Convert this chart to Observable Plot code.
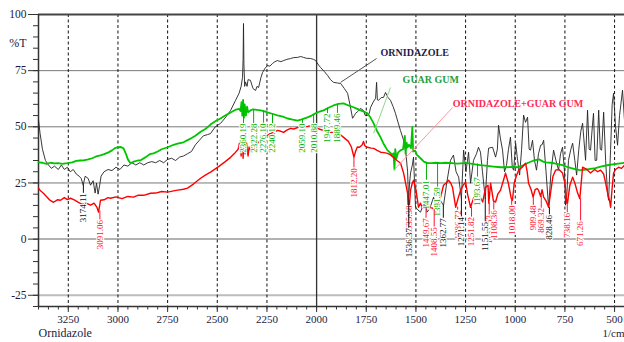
<!DOCTYPE html>
<html><head><meta charset="utf-8">
<script src="https://cdn.jsdelivr.net/npm/d3@7"></script>
<script src="https://cdn.jsdelivr.net/npm/@observablehq/plot@0.6"></script>
<style>
html,body{margin:0;padding:0;background:#fff;}
#chart{width:624px;height:342px;overflow:hidden;}
</style></head><body><div id="chart"></div>
<script>
// ---- tick labels ----
const xTicks = [3250,3000,2750,2500,2250,2000,1750,1500,1250,1000,750,500];
const yTicks = [-25,0,25,50,75,100];

// ---- series: [wavenumber (1/cm), %T] ----
const ornidazole = [[3400,53],[3392,47],[3380,40],[3365,35],[3350,33],[3335,31.5],[3320,32.5],[3300,31],[3285,33],[3270,31],[3255,32],[3240,30],[3225,31],[3210,29],[3195,28],[3185,27],[3175,24],[3165,28],[3150,27],[3138,24],[3125,26],[3115,20.5],[3108,25],[3100,20],[3092,24],[3085,28],[3070,30],[3050,31],[3030,30.5],[3010,32],[2990,31],[2970,33],[2950,32.5],[2930,34],[2910,33],[2890,34],[2870,33],[2850,34],[2830,34.5],[2810,34],[2790,35],[2770,34],[2750,35.5],[2730,36],[2710,35],[2690,36.5],[2670,37],[2650,38],[2630,39],[2610,42],[2590,44],[2570,46],[2550,46.5],[2534,47],[2510,50],[2484,51.5],[2460,54],[2433,57.3],[2408,61.8],[2390,65],[2380,68],[2373,72],[2370,80],[2368,96],[2366,78],[2362,68],[2358,70],[2350,68],[2345,71],[2333,70.7],[2320,67],[2307,66.2],[2300,68],[2292,67.5],[2280,72],[2272,74.2],[2260,76],[2247,77.3],[2235,77],[2222,78.2],[2210,79],[2197,79.5],[2180,79],[2166,79.5],[2150,80],[2131,80.4],[2115,80.8],[2096,80.9],[2080,81.3],[2066,80.9],[2050,80.5],[2030,80.4],[2015,80],[2005,79.5],[1990,77.5],[1980,76.4],[1960,74.5],[1945,72.9],[1930,71],[1915,69.8],[1895,69.5],[1879,69.3],[1860,67],[1844,64.9],[1830,59],[1819,53.8],[1810,55],[1804,56],[1790,57],[1779,58.2],[1764,57.3],[1755,55],[1744,55],[1735,56],[1728,58.7],[1715,61],[1703,62.7],[1698,69.8],[1694,62],[1688,61.8],[1675,63],[1663,63.1],[1653,65.3],[1640,63],[1628,61.8],[1615,59],[1603,56],[1590,52],[1578,48.4],[1562,44],[1550,38],[1542,30],[1537,17.3],[1532,25],[1527,29.4],[1518,33],[1512,36.5],[1507,25],[1502,14.2],[1490,13],[1477,12],[1464,15],[1451,16],[1444,12],[1436,12.9],[1425,15],[1411,18.7],[1400,14],[1386,14.2],[1375,17],[1361,15],[1345,25],[1326,35.1],[1311,37.4],[1298,30],[1285,27.6],[1271,18],[1260,39.6],[1248,30],[1235,38.7],[1225,24.9],[1210,35.1],[1195,38],[1185,40.9],[1175,38.7],[1165,30],[1151,18],[1140,35],[1134,40.5],[1114,40.9],[1099,36.5],[1090,40],[1084,50.7],[1075,45],[1064,39.6],[1054,30],[1044,32.9],[1034,40],[1024,45.4],[1015,32],[1008,30.7],[998,42.7],[988,35],[978,28.5],[968,40],[958,55.2],[948,52],[938,54.3],[930,40],[923,39.6],[913,44],[903,35],[893,30.7],[883,38],[872,41.8],[865,42],[857,44],[845,30],[832,14],[820,30],[807,39.6],[795,35],[782,30.7],[772,38],[762,40.9],[752,30],[747,15.1],[740,20],[732,35.1],[720,40],[711,42.7],[700,35],[691,28.5],[680,40],[670,48],[661,51.6],[655,45],[646,35.1],[636,57.4],[628,40],[621,39.6],[612,50],[606,56],[598,35],[590,35.1],[580,57.4],[572,40],[565,39.6],[555,56.5],[545,35],[535,20],[530,17.3],[520,40],[512,60],[505,64.9],[495,50],[485,41.8],[475,55],[460,66.3],[450,52.9]];

const guarGum = [[3400,34.2],[3380,34],[3360,33.5],[3340,34],[3320,33.7],[3300,33.8],[3280,33.5],[3254,33.8],[3230,34.2],[3210,34.8],[3190,35],[3173,35.1],[3150,35.5],[3130,36],[3110,36.8],[3088,37.3],[3070,37.8],[3050,38.5],[3030,39.5],[3015,40.5],[3002,40.9],[2985,41],[2972,40.4],[2960,38],[2950,35.5],[2937,33.8],[2920,34.5],[2900,35],[2886,35.1],[2860,36.5],[2840,37.8],[2821,38.2],[2800,39],[2780,40],[2750,40.9],[2720,42],[2700,42.5],[2670,43.1],[2640,44.5],[2610,46],[2584,47.8],[2560,49],[2534,51],[2510,52.5],[2484,53.7],[2460,55],[2433,56.4],[2410,57.5],[2390,58],[2383,57],[2378,61],[2374,55],[2370,62],[2366,54],[2362,60],[2356,55],[2350,59],[2345,56.5],[2333,57.3],[2320,57.8],[2300,57.5],[2282,57.3],[2265,57],[2247,56.4],[2220,55.7],[2197,55.1],[2170,54.5],[2146,53.7],[2120,53.2],[2096,52.8],[2075,53.3],[2046,54.2],[2025,55],[2005,56],[1985,56.8],[1965,57.3],[1940,58.5],[1915,59.5],[1890,60.2],[1864,60.4],[1840,59.5],[1814,58.7],[1795,58],[1779,57.3],[1760,56.7],[1744,56],[1728,54],[1713,51.5],[1695,48],[1678,45.3],[1660,42],[1643,39.5],[1630,38.5],[1620,37.5],[1613,38.2],[1608,31],[1604,40],[1598,36],[1590,38.5],[1578,39.5],[1565,40],[1556,46],[1552,38],[1547,43],[1542,40.9],[1535,42],[1525,40.5],[1518,50],[1514,39],[1505,39.5],[1495,37.5],[1477,36],[1460,34.5],[1441,33.8],[1420,33.8],[1400,34],[1376,33.8],[1350,34],[1320,33.8],[1290,33.6],[1260,33.8],[1240,33.8],[1210,33.4],[1175,32.9],[1140,32.6],[1110,32.3],[1074,32],[1040,32],[1010,32.2],[988,32],[960,32.8],[935,34],[907,35],[880,35.5],[860,34.5],[847,34.2],[820,34],[790,33.5],[762,32.9],[735,32],[700,31.2],[680,30.8],[661,30.7],[630,31.2],[596,31.6],[565,32.4],[530,33],[490,33.5],[450,34]];

const mixture = [[3400,22.7],[3390,21.5],[3375,20.4],[3360,19],[3345,17.5],[3324,16.4],[3305,17.5],[3289,17.3],[3270,18.5],[3255,17.6],[3239,18.2],[3220,17.5],[3199,16.4],[3180,15.5],[3160,16],[3138,15.1],[3120,16],[3105,14],[3098,12],[3092,15],[3088,17.3],[3070,17.5],[3050,18.5],[3037,18.2],[3010,18.8],[2980,18],[2950,19],[2922,18.7],[2900,19.5],[2870,19.5],[2836,20.4],[2810,20.5],[2780,21.2],[2750,20.9],[2720,21.5],[2700,21.8],[2670,22.2],[2650,22.7],[2620,24.5],[2600,26],[2584,27.1],[2560,28.5],[2534,29.8],[2519,30.7],[2490,32.5],[2460,34.5],[2433,36.4],[2410,38.5],[2395,40],[2385,44],[2380,37],[2375,46],[2370,36],[2366,44],[2360,38],[2353,43],[2345,37],[2340,41],[2333,39.5],[2320,41],[2310,40.5],[2297,42.7],[2282,44],[2267,45.3],[2250,46],[2232,47.1],[2215,47.5],[2197,48.4],[2180,48],[2166,47.5],[2150,48.5],[2131,49.3],[2115,49],[2096,49.7],[2070,50],[2046,50.2],[2030,50.5],[2015,51.1],[2005,50.5],[1995,49.3],[1980,48.8],[1965,48.4],[1950,48],[1930,47.5],[1910,47.5],[1894,47.1],[1880,46.5],[1864,45.3],[1840,43.5],[1825,41],[1812,36.5],[1804,39],[1795,41],[1784,40.9],[1770,42],[1764,43.5],[1757,41.5],[1744,40.9],[1725,40.5],[1713,40.4],[1695,39.5],[1678,38.7],[1660,38.5],[1643,38.2],[1628,37.5],[1613,36.4],[1595,35],[1577,33.8],[1562,29.4],[1550,24],[1542,20.5],[1537,9.3],[1532,16],[1527,21.8],[1518,25],[1512,26.2],[1500,22],[1487,14.2],[1477,16],[1467,13.8],[1455,15],[1441,16],[1430,14],[1416,13.8],[1401,12],[1390,15],[1376,18.7],[1361,24],[1348,25],[1336,26.2],[1325,25],[1316,23.1],[1300,14.2],[1288,18],[1275,21.8],[1262,24],[1250,25.4],[1240,20],[1225,14.2],[1210,18.2],[1200,20],[1190,21.8],[1178,19],[1164,16.5],[1149,23.1],[1137,24],[1133,16],[1124,24.9],[1110,17],[1099,16.5],[1088,20],[1074,21.8],[1060,26],[1049,29.4],[1035,25],[1020,18],[1014,17.3],[1005,25],[995,28],[983,30.7],[965,32],[948,33.8],[940,30],[933,24.9],[920,22],[910,18.7],[900,22],[890,22.5],[883,21.8],[872,19],[865,22],[857,18.7],[845,17],[832,14.2],[820,22],[810,28],[797,30.7],[780,31],[762,29.4],[750,25],[740,16],[737,16],[725,24],[711,27.6],[700,25],[686,20.5],[675,18],[668,25],[661,32],[640,31],[621,29.4],[600,31],[585,30],[570,30.7],[555,29],[545,25],[535,20.5],[525,17],[520,14.2],[513,22],[505,29.4],[495,31],[480,32],[465,31.5],[450,32.9]];

// ---- peak labels: [wavenumber, text, %T at peak, %T at label top] ----
const ornidazolePeaks = [[3174,"3174.11",24,20.4],[1536,"1536.37",17.3,4.9],[1362,"1362.77",15,9.3],[1271,"1271.14",18,9.8],[1151,"1151.55",18,7.6],[828,"828.46",14,10.7]];
const guarGumPeaks = [[2368,"2360.19",59,51.5],[2317,"2322.28",57.6,51.5],[2267,"2276.10",57,51.5],[2222,"2240.12",55.7,51.5],[2071,"2059.10",53.2,51.5],[2015,"2010.88",55.5,51.5],[1945,"1947.72",58.3,55.9],[1895,"1889.46",60,55.9],[1447,"1447.01",34,26.2],[1391,"1391.59",34,23.1],[1190,"1193.67",33.4,27.6]];
const mixturePeaks = [[3091,"3091.06",12.5,8.5],[1812,"1812.20",36.5,31.6],[1535,"1535.38",15,15],[1449,"1449.67",14,9.3],[1408,"1408.55",13,5.3],[1290,"1286.72",14.2,12.9],[1220,"1251.82",14.2,9.8],[1131,"1131.53",16,10.7],[1108,"1108.36",17,12.9],[1018,"1018.00",17.3,15],[909,"909.48",18.7,15],[869,"869.32",19,13.8],[738,"738.16",16,11.6],[671,"671.26",18,8]];

// ---- series names: [name, text x, text y, line x1, y1, x2, y2] ----
const seriesNames = [
  ["ORNIDAZOLE", 1678, 83.1, 1698, 80.4, 1879, 69.8],
  ["GUAR GUM", 1567, 71.1, 1628, 67.5, 1713, 47.1],
  ["ORNIDAZOLE+GUAR GUM", 1315, 60.4, 1315, 58.6, 1612, 30.6]
];
const nameColors = ["#1c1c48", "#1f9e3c", "#ff2a55"];
const nameLineColors = ["#555", "#8fd88f", "#ff9a9a"];

const rows = s => s.map(([wn,t]) => ({wn, t}));
const peakRows = s => s.map(([wn,label,peak,top]) => ({wn,label,peak,top}));

const serif = "'Liberation Serif','Times New Roman',serif";
const ink = "#1a1a40";
const minorY = d3.range(-30, 101, 5);
const minorX = d3.range(450, 3401, 50);

function peakMarks(data, color) {
  const r = peakRows(data);
  return [
    Plot.ruleX(r, {x:"wn", y1:"peak", y2:"top", stroke:color, strokeWidth:1}),
    Plot.text(r, {x:"wn", y:"top", text:"label", rotate:-90, textAnchor:"end", fontSize:9, fontFamily:serif, fill:color, stroke:"white", strokeWidth:2})
  ];
}

const names = seriesNames.map(([name,x,y,x1,y1,x2,y2],i)=>({name,x,y,x1,y1,x2,y2,c:nameColors[i],lc:nameLineColors[i]}));

const chart = Plot.plot({
  width: 624, height: 342,
  marginLeft: 38, marginRight: 0, marginTop: 14, marginBottom: 36,
  x: {domain: [3400, 450], axis: null},
  y: {domain: [-30, 100], axis: null},
  style: {fontFamily: serif, background: "#fff", color: ink},
  marks: [
    Plot.ruleY([75,50,25], {stroke:"#7a7a7a", strokeWidth:1}),
    Plot.ruleY([0], {stroke:"#999", strokeWidth:1.5}),
    Plot.ruleY([-25], {stroke:"#bdbdbd", strokeWidth:2}),
    Plot.ruleX(xTicks.filter(d => d !== 2000), {stroke:"#111", strokeWidth:1, strokeDasharray:"3,2.5"}),
    Plot.ruleX([2000], {stroke:"#333", strokeWidth:1.3}),
    Plot.ruleY([100], {stroke:"#444", strokeWidth:2}),
    Plot.ruleY([-30], {stroke:"#333", strokeWidth:1.5}),
    Plot.ruleX([3400], {stroke:"#333", strokeWidth:1.5}),
    Plot.axisY({ticks: minorY, tickSize: 5, tickFormat: () => "", stroke:"#333"}),
    Plot.axisY({ticks: yTicks, tickSize: 10, tickPadding: 2, tickFormat: d => String(d), fontSize: 11.5, stroke:"#333", fill: ink}),
    Plot.axisX({ticks: minorX, tickSize: 3.5, tickFormat: () => "", stroke:"#333"}),
    Plot.axisX({ticks: xTicks, tickSize: 6, tickPadding: 3, tickFormat: d => String(d), fontSize: 11, stroke:"#333", fill: ink}),
    Plot.text(["%T"], {frameAnchor:"left", y: 87.3, dx:-12, textAnchor:"end", fontSize:12, fill: ink}),
    Plot.text(["Ornidazole"], {frameAnchor:"bottom-left", dy: 30.5, textAnchor:"start", fontSize:12, fill: ink}),
    Plot.text(["1/cm"], {frameAnchor:"bottom-right", dy: 30.5, textAnchor:"end", fontSize:11, fill: ink}),
    Plot.line(rows(ornidazole), {x:"wn", y:"t", stroke:"#222", strokeWidth:0.9}),
    Plot.line(rows(guarGum), {x:"wn", y:"t", stroke:"#00c400", strokeWidth:1.8}),
    Plot.line(rows(mixture), {x:"wn", y:"t", stroke:"#ff0000", strokeWidth:1.4}),
    ...peakMarks(guarGumPeaks, "#00b000"),
    ...peakMarks(mixturePeaks, "#ff1030"),
    ...peakMarks(ornidazolePeaks, "#111"),
    Plot.link(names, {x1:"x1", y1:"y1", x2:"x2", y2:"y2", stroke:"lc", strokeWidth:1}),
    Plot.text(names, {x:"x", y:"y", text:"name", fill:"c", textAnchor:"start", fontSize:10, fontWeight:"bold"})
  ]
});
document.getElementById("chart").appendChild(chart);
</script>
</body></html>
